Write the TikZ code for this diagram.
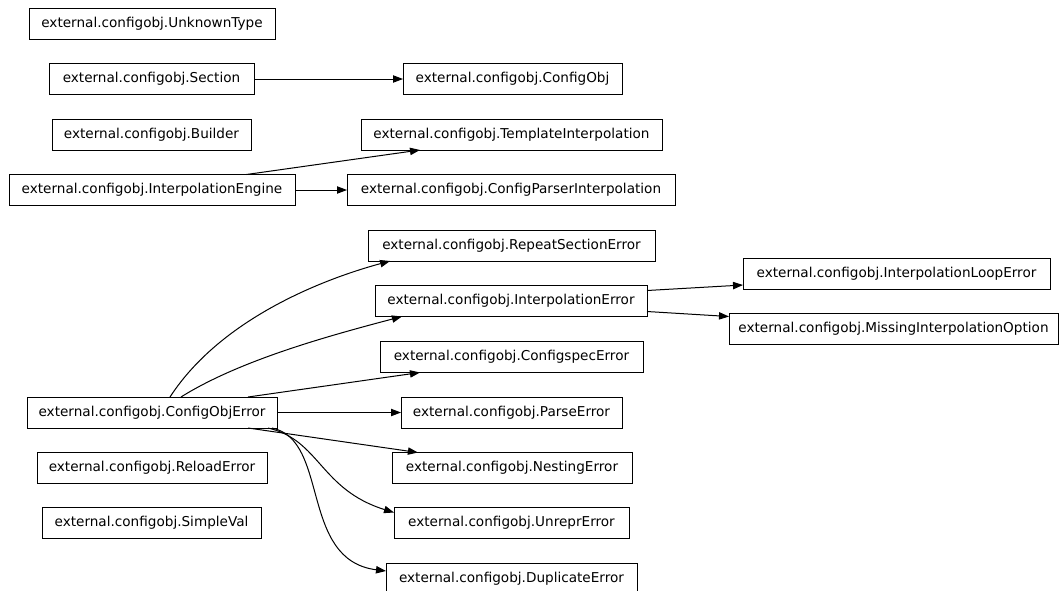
\documentclass[tikz,border=0pt]{standalone}
\usepackage{fontspec}
\setmainfont{DejaVu Sans}
\usetikzlibrary{arrows.meta,calc}
\begin{document}
\begin{tikzpicture}[x=0.75pt,y=-0.75pt,
  box/.style={draw=black,line width=0.75pt,rectangle,inner sep=0pt,outer sep=0pt,
    minimum height=23.25pt,font=\fontsize{10.2pt}{12pt}\selectfont},
  edge/.style={line width=0.75pt,-{Triangle[length=7.5pt,width=5.5pt]}}]
\fill[white] (0,0) rectangle (1059,590);
\useasboundingbox (0,0) rectangle (1059,590);
% left column
\node[box,minimum width=184.5pt]  (unk)  at (152,23.5)   {external.configobj.UnknownType};
\node[box,minimum width=153.75pt] (sec)  at (151.5,79)   {external.configobj.Section};
\node[box,minimum width=149.25pt] (bld)  at (151.5,134.5){external.configobj.Builder};
\node[box,minimum width=214.5pt]  (eng)  at (152,190)    {external.configobj.InterpolationEngine};
\node[box,minimum width=187.5pt]  (coe)  at (152,412.5)  {external.configobj.ConfigObjError};
\node[box,minimum width=172.5pt]  (rel)  at (152,468)    {external.configobj.ReloadError};
\node[box,minimum width=164.25pt] (sv)   at (151.5,523)  {external.configobj.SimpleVal};
% middle column
\node[box,minimum width=164.25pt] (cobj) at (512.5,79)   {external.configobj.ConfigObj};
\node[box,minimum width=225.75pt] (tmpl) at (511.5,134.5){external.configobj.TemplateInterpolation};
\node[box,minimum width=246pt]    (cpi)  at (511,190)    {external.configobj.ConfigParserInterpolation};
\node[box,minimum width=215.25pt] (rep)  at (511.5,245.5){external.configobj.RepeatSectionError};
\node[box,minimum width=204pt]    (ierr) at (511,301)    {external.configobj.InterpolationError};
\node[box,minimum width=197.25pt] (cspec)at (511.5,357)  {external.configobj.ConfigspecError};
\node[box,minimum width=165.75pt] (parse)at (511.5,412.5){external.configobj.ParseError};
\node[box,minimum width=180pt]    (nest) at (512,468)    {external.configobj.NestingError};
\node[box,minimum width=176.25pt] (unr)  at (511.5,523)  {external.configobj.UnreprError};
\node[box,minimum width=188.25pt] (dup)  at (511.5,578.5){external.configobj.DuplicateError};
% right column
\node[box,minimum width=230.25pt] (loop) at (896.5,273.5){external.configobj.InterpolationLoopError};
\node[box,minimum width=246.75pt] (miss) at (893.5,329)  {external.configobj.MissingInterpolationOption};
% edges
\draw[edge] (sec.east) -- (cobj.west);
\draw[edge] ($(eng.north west)!0.83!(eng.north east)$) -- ($(tmpl.south west)!0.196!(tmpl.south east)$);
\draw[edge] (eng.east) -- (cpi.west);
\draw[edge] ($(coe.north west)!0.572!(coe.north east)$) .. controls +(50,-77) and +(-70,19) .. ($(rep.south west)!0.077!(rep.south east)$);
\draw[edge] ($(coe.north west)!0.616!(coe.north east)$) .. controls +(59,-37) and +(-72,19) .. ($(ierr.south west)!0.099!(ierr.south east)$);
\draw[edge] ($(coe.north west)!0.884!(coe.north east)$) -- ($(cspec.south west)!0.152!(cspec.south east)$);
\draw[edge] (coe.east) -- (parse.west);
\draw[edge] ($(coe.south west)!0.884!(coe.south east)$) -- ($(nest.north west)!0.108!(nest.north east)$);
\draw[edge] ($(coe.south west)!0.964!(coe.south east)$) .. controls +(52,12) and +(-74,-23) .. ($(unr.north west)+(0,5)$);
\draw[edge] ($(coe.south west)!0.98!(coe.south east)$) .. controls +(58,12) and +(-87,-11) .. ($(dup.north west)+(0,8)$);
\draw[edge] ($(ierr.north east)+(0,5)$) -- ($(loop.south west)+(0,-4)$);
\draw[edge] ($(ierr.south east)+(0,-5)$) -- ($(miss.north west)+(0,3)$);
\end{tikzpicture}
\end{document}
